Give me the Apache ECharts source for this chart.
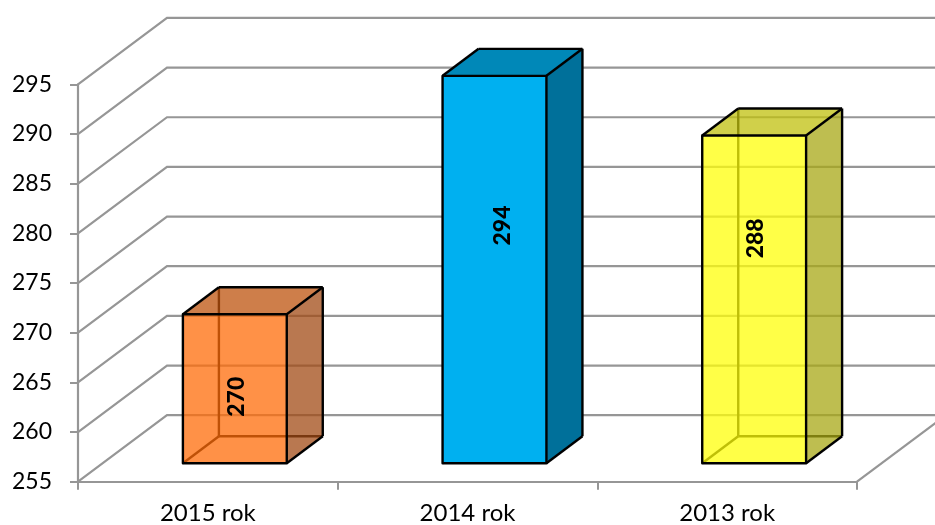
<!DOCTYPE html>
<html>
<head>
<meta charset="utf-8">
<style>html,body{margin:0;padding:0;background:#fff;overflow:hidden}#c{width:935px;height:525px}</style>
<script src="https://cdn.jsdelivr.net/npm/echarts@6/dist/echarts.min.js"></script>
</head>
<body>
<div id="c"></div>
<script>
const categories = ['2015 rok', '2014 rok', '2013 rok'];
const values = [270, 294, 288];
const yTicks = [255, 260, 265, 270, 275, 280, 285, 290, 295];
const labelLift = [-8, 44, 61];
const palettes = [
  { front: 'rgb(255,108,10)', top: 'rgb(189,83,13)', side: 'rgb(161,75,22)', alpha: 0.75 },
  { front: 'rgb(0,176,240)', top: 'rgb(0,136,184)', side: 'rgb(0,112,154)', alpha: 1 },
  { front: 'rgb(255,255,10)', top: 'rgb(192,192,13)', side: 'rgb(168,168,22)', alpha: 0.75 }
];
const labelNudge = [2, 8, 1];
const GRAY = '#969696';
const DX = 89, DY = -66.5;      // wall depth
const BAR_DX = 27, BAR_DY = -18.5; // bar front plane
const BDX = 36, BDY = -27;    // bar depth

const chart = echarts.init(document.getElementById('c'));

function wallItem(params, api) {
  const cs = params.coordSys;
  const v = api.value(0);
  const p = api.coord([0, v]);
  const y = p[1];
  const lx = cs.x, rx = cs.x + cs.width;
  const children = [{
    type: 'polyline',
    shape: { points: [[lx, y], [lx + DX, y + DY], [rx + DX, y + DY]] },
    style: { stroke: GRAY, lineWidth: 2.2, fill: null }
  }];
  if (params.dataIndex === 0) {
    children.push({
      type: 'line',
      shape: { x1: rx, y1: y, x2: rx + DX, y2: y + DY },
      style: { stroke: GRAY, lineWidth: 2.2 }
    });
  }
  return { type: 'group', children };
}

function barItem(params, api) {
  const i = params.dataIndex;
  const pal = palettes[i];
  const cat = api.value(0), val = api.value(1);
  const t = api.coord([cat, val]);
  const b = api.coord([cat, 255]);
  const w = api.size([1, 0])[0] * 0.4;
  const x0 = t[0] + BAR_DX - w / 2, x1 = x0 + w;
  const yt = t[1] + BAR_DY, yb = b[1] + BAR_DY;
  const edge = { stroke: '#000', lineWidth: 2.4, lineJoin: 'round' };
  const poly = (pts, fill, a) => ({
    type: 'polygon', shape: { points: pts },
    style: Object.assign({ fill: fill, opacity: a }, edge)
  });
  const fillOnly = (pts, fill, a) => ({
    type: 'polygon', shape: { points: pts },
    style: { fill: fill, opacity: a, stroke: null }
  });
  const ln = (a, b2) => ({
    type: 'line',
    shape: { x1: a[0], y1: a[1], x2: b2[0], y2: b2[1] },
    style: edge
  });
  const A = [x0, yt], B = [x1, yt], C = [x1, yb], D = [x0, yb];
  const At = [x0 + BDX, yt + BDY], Bt = [x1 + BDX, yt + BDY], Cb = [x1 + BDX, yb + BDY], Db = [x0 + BDX, yb + BDY];
  const children = [
    ln(At, Db), ln(Db, Cb), ln(Db, D),
    fillOnly([A, B, C, D], pal.front, pal.alpha),
    fillOnly([A, At, Bt, B], pal.top, pal.alpha),
    fillOnly([B, Bt, Cb, C], pal.side, pal.alpha),
    ln(A, At), ln(At, Bt), ln(Bt, B), ln(Bt, Cb), ln(Cb, C),
    poly([A, B, C, D], 'transparent', 1),
    {
      type: 'text',
      x: (x0 + x1) / 2 + labelNudge[i],
      y: (yt + yb) / 2 - labelLift[i],
      rotation: Math.PI / 2,
      style: {
        text: String(values[i]),
        font: '900 23px Lato, sans-serif',
        fill: '#000', align: 'center', verticalAlign: 'middle'
      }
    }
  ];
  return { type: 'group', children };
}

chart.setOption({
  animation: false,
  backgroundColor: '#fff',
  grid: { left: 78, right: 78, top: 84.4, bottom: 43.3, containLabel: false, outerBoundsMode: 'none' },
  xAxis: {
    type: 'category', data: categories,
    axisLine: { lineStyle: { color: GRAY, width: 2.2 } },
    axisTick: { show: true, length: 8, lineStyle: { color: GRAY, width: 2 } },
    axisLabel: { color: '#000', fontFamily: 'Lato, sans-serif', fontSize: 24, margin: 20 },
    splitLine: { show: false }
  },
  yAxis: {
    type: 'value', min: 255, max: 295, interval: 5,
    axisLine: { show: true, lineStyle: { color: GRAY, width: 2.2 } },
    axisTick: { show: true, length: 8, lineStyle: { color: GRAY, width: 2 } },
    axisLabel: { color: '#000', fontFamily: 'Lato, sans-serif', fontSize: 23, margin: 26, padding: [3, 0, 0, 0] },
    splitLine: { show: false }
  },
  series: [
    { type: 'custom', clip: false, silent: true, z: 1,
      data: yTicks.map(v => [v]), encode: { y: 0 }, renderItem: wallItem },
    { type: 'custom', clip: false, silent: true, z: 3,
      data: values.map((v, i) => [i, v]), encode: { x: 0, y: 1 }, renderItem: barItem }
  ]
});
</script>
</body>
</html>
